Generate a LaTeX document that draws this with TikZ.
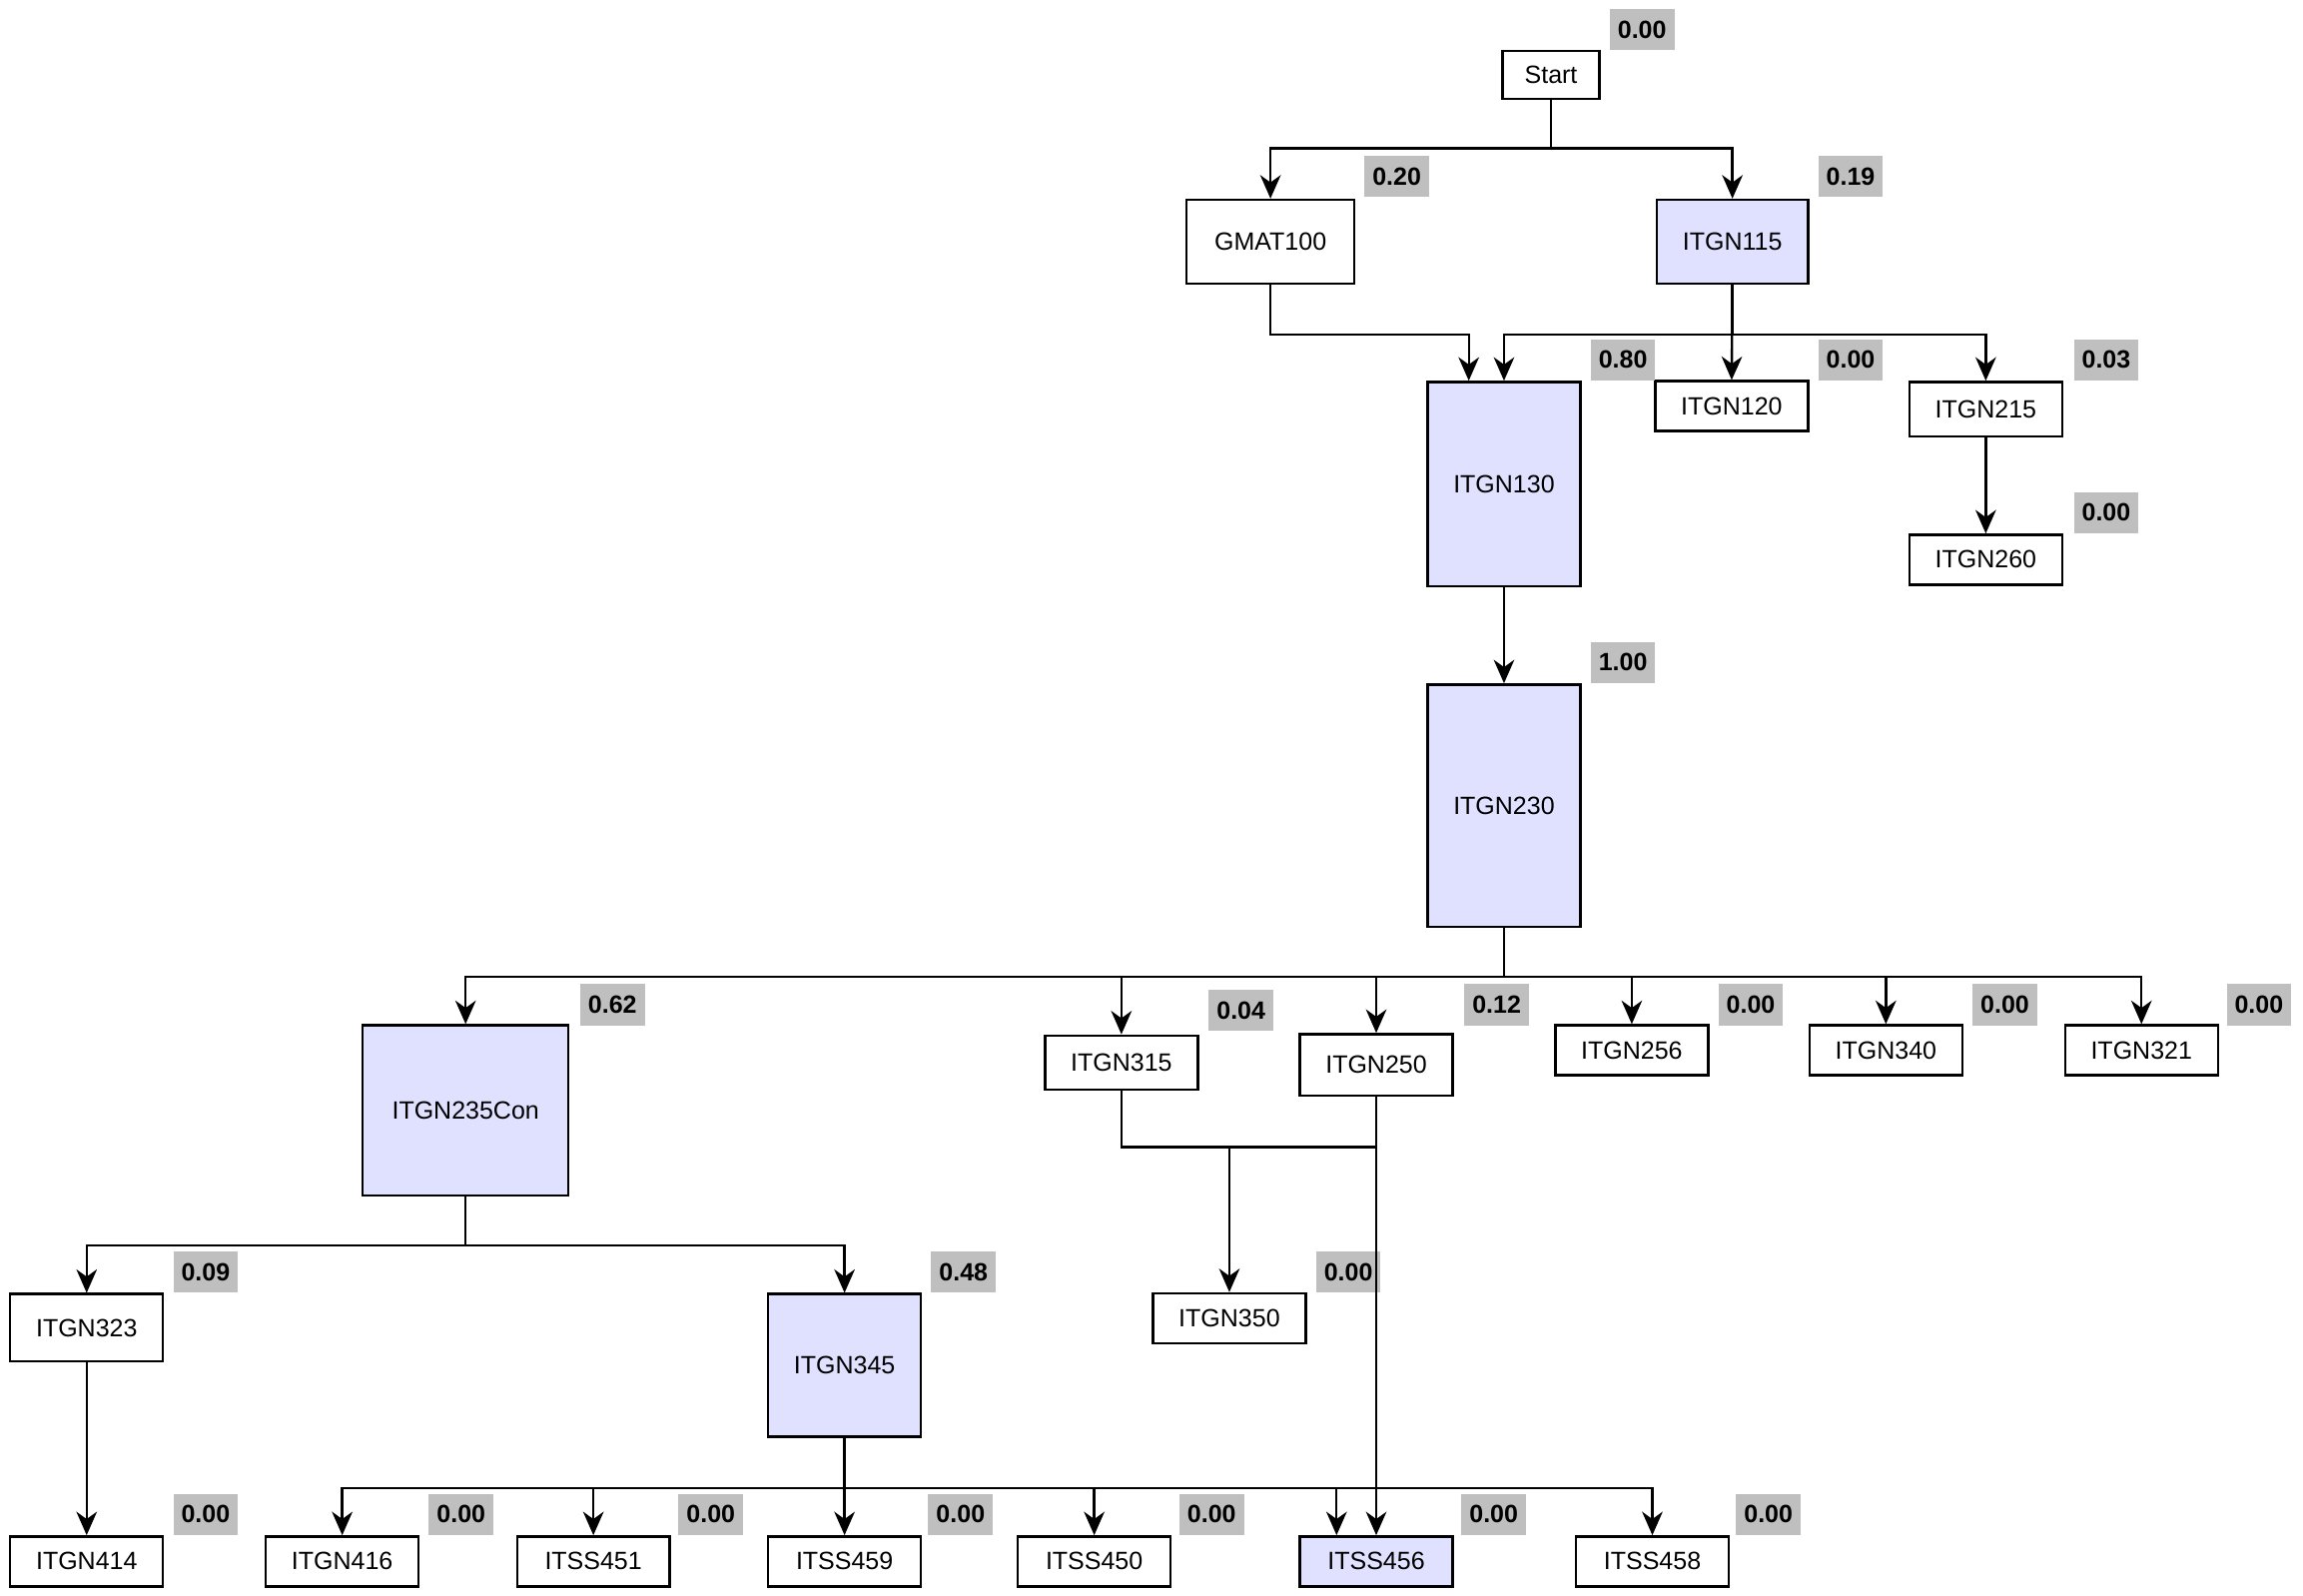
\documentclass[tikz,border=0pt]{standalone}
\usepackage{fontspec}
\setmainfont{Liberation Sans}
\usetikzlibrary{arrows.meta,calc}

\tikzset{
  box/.style={draw,line width=0.8pt,fill=white,inner sep=0pt,minimum width=52pt,minimum height=17pt,font=\fontsize{8.5}{10}\selectfont},
  hot/.style={box,fill=blue!12!white},
  score/.style={fill=black!25,inner sep=0pt,minimum width=22pt,minimum height=14pt,font=\fontsize{8.5}{10}\selectfont\bfseries},
  arr/.style={line width=0.8pt,-{Stealth[length=8pt,width=7pt,inset=2.5pt]}},
  ln/.style={line width=0.8pt}
}

\begin{document}
\begin{tikzpicture}[x=0.5pt,y=-0.5pt]
\useasboundingbox (0,0) rectangle (1568,1086);

% top part
\node[box,minimum width=33pt,minimum height=16.5pt] (start) at (1056,51) {Start};
\node[box,minimum width=57pt,minimum height=28.5pt] (gmat100) at (865,164.5) {GMAT100};
\node[hot,minimum width=51.5pt,minimum height=28.5pt] (itgn115) at (1179.5,164.5) {ITGN115};
\node[hot,minimum height=69.5pt] (itgn130) at (1024,329.5) {ITGN130};
\node[box] (itgn120) at (1179,276.5) {ITGN120};
\node[box,minimum height=18.5pt] (itgn215) at (1352,278.5) {ITGN215};
\node[box] (itgn260) at (1352,381) {ITGN260};
\node[hot,minimum height=82.5pt] (itgn230) at (1024,548.5) {ITGN230};

% middle row
\node[hot,minimum width=70pt,minimum height=58pt] (itgn235con) at (317,756) {ITGN235Con};
\node[box,minimum height=18.5pt] (itgn315) at (763.5,723.5) {ITGN315};
\node[box,minimum height=21pt] (itgn250) at (937,725) {ITGN250};
\node[box] (itgn256) at (1111,715) {ITGN256};
\node[box] (itgn340) at (1284,715) {ITGN340};
\node[box] (itgn321) at (1458,715) {ITGN321};
\node[box] (itgn350) at (837,897.5) {ITGN350};
\node[box,minimum height=23pt] (itgn323) at (59,904) {ITGN323};
\node[hot,minimum height=48.5pt] (itgn345) at (575,929.5) {ITGN345};

% bottom row
\node[box] (itgn414) at (59,1063) {ITGN414};
\node[box] (itgn416) at (233,1063) {ITGN416};
\node[box] (itss451) at (404,1063) {ITSS451};
\node[box] (itss459) at (575,1063) {ITSS459};
\node[box] (itss450) at (745,1063) {ITSS450};
\node[hot] (itss456) at (937,1063) {ITSS456};
\node[box] (itss458) at (1125,1063) {ITSS458};

% scores
\node[score] (s-start) at (1118,20) {0.00};
\node[score] (s-gmat100) at (951,120) {0.20};
\node[score] (s-itgn115) at (1260,120) {0.19};
\node[score] (s-itgn130) at (1105,245) {0.80};
\node[score] (s-itgn120) at (1260,245) {0.00};
\node[score] (s-itgn215) at (1434,245) {0.03};
\node[score] (s-itgn260) at (1434,349) {0.00};
\node[score] (s-itgn230) at (1105,451) {1.00};
\node[score] (s-itgn235con) at (417,684) {0.62};
\node[score] (s-itgn315) at (845,688) {0.04};
\node[score] (s-itgn250) at (1019,684) {0.12};
\node[score] (s-itgn256) at (1192,684) {0.00};
\node[score] (s-itgn340) at (1365,684) {0.00};
\node[score] (s-itgn321) at (1538,684) {0.00};
\node[score] (s-itgn350) at (918,866) {0.00};
\node[score] (s-itgn323) at (140,866) {0.09};
\node[score] (s-itgn345) at (656,866) {0.48};
\node[score] (s-itgn414) at (140,1031) {0.00};
\node[score] (s-itgn416) at (314,1031) {0.00};
\node[score] (s-itss451) at (484,1031) {0.00};
\node[score] (s-itss459) at (654,1031) {0.00};
\node[score] (s-itss450) at (825,1031) {0.00};
\node[score] (s-itss456) at (1017,1031) {0.00};
\node[score] (s-itss458) at (1204,1031) {0.00};

% bus lines
\coordinate (bus1) at (0,101);
\coordinate (bus2) at (0,228);
\coordinate (bus3) at (0,665);
\coordinate (bus4) at (0,781);
\coordinate (bus5) at (0,848);
\coordinate (bus6) at (0,1013);
\coordinate (in130) at ($(itgn130.north)+(-24,0)$);
\coordinate (in456) at ($(itss456.north)+(-27,0)$);

% connectors
\draw[arr] (start.south) -- (start|-bus1) -| (gmat100.north);
\draw[arr] (start.south) -- (start|-bus1) -| (itgn115.north);
\draw[arr] (gmat100.south) -- (gmat100|-bus2) -| (in130);
\draw[arr] (itgn115.south) -- (itgn115|-bus2) -| (itgn130.north);
\draw[arr] (itgn115.south) -- (itgn120.north);
\draw[arr] (itgn115.south) -- (itgn115|-bus2) -| (itgn215.north);
\draw[arr] (itgn215) -- (itgn260);
\draw[arr] (itgn130) -- (itgn230);
\foreach \n in {itgn235con,itgn315,itgn250,itgn256,itgn340,itgn321}
  \draw[arr] (itgn230.south) -- (itgn230|-bus3) -| (\n.north);
\draw[arr] (itgn315.south) -- (itgn315|-bus4) -| (itgn350.north);
\draw[ln] (itgn250.south) -- (itgn250|-bus4) -- (itgn350|-bus4);
\draw[arr] (itgn250.south) -- (itss456.north);
\draw[arr] (itgn235con.south) -- (itgn235con|-bus5) -| (itgn323.north);
\draw[arr] (itgn235con.south) -- (itgn235con|-bus5) -| (itgn345.north);
\draw[arr] (itgn323) -- (itgn414);
\foreach \n in {itgn416,itss451,itss459,itss450,itss458}
  \draw[arr] (itgn345.south) -- (itgn345|-bus6) -| (\n.north);
\draw[arr] (itgn345.south) -- (itgn345|-bus6) -| (in456);

\end{tikzpicture}
\end{document}
